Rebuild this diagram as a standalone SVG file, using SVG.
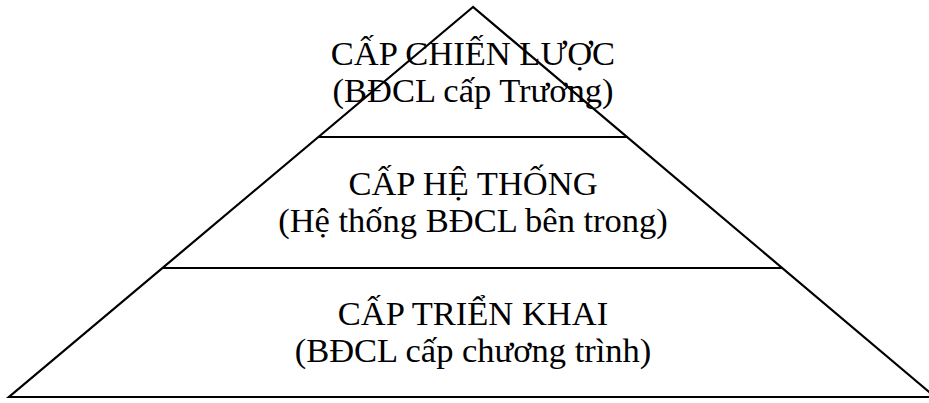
<svg xmlns="http://www.w3.org/2000/svg" width="929" height="403" viewBox="0 0 929 403">
<style>
.ln{stroke:#000;stroke-width:2.2;fill:none}
.t{font-family:"Liberation Serif","Times New Roman",serif;font-size:34.5px;fill:#000;text-anchor:middle}
</style>
<rect width="929" height="403" fill="#fff"/>
<g id="connectors">
<polygon class="ln" points="473,7 9,397 935,397" stroke-linejoin="miter"/>
<line class="ln" x1="318" y1="137" x2="628" y2="137"/>
<line class="ln" x1="163" y1="268" x2="782" y2="268"/>
</g>
<g id="level-strategic">
<text class="t" x="473" y="65">CẤP CHIẾN LƯỢC</text>
<text class="t" x="473" y="102">(BĐCL cấp Trương)</text>
</g>
<g id="level-system">
<text class="t" x="473" y="195">CẤP HỆ THỐNG</text>
<text class="t" x="473" y="232">(Hệ thống BĐCL bên trong)</text>
</g>
<g id="level-implementation">
<text class="t" x="473" y="325">CẤP TRIỂN KHAI</text>
<text class="t" x="473" y="362">(BĐCL cấp chương trình)</text>
</g>
</svg>
